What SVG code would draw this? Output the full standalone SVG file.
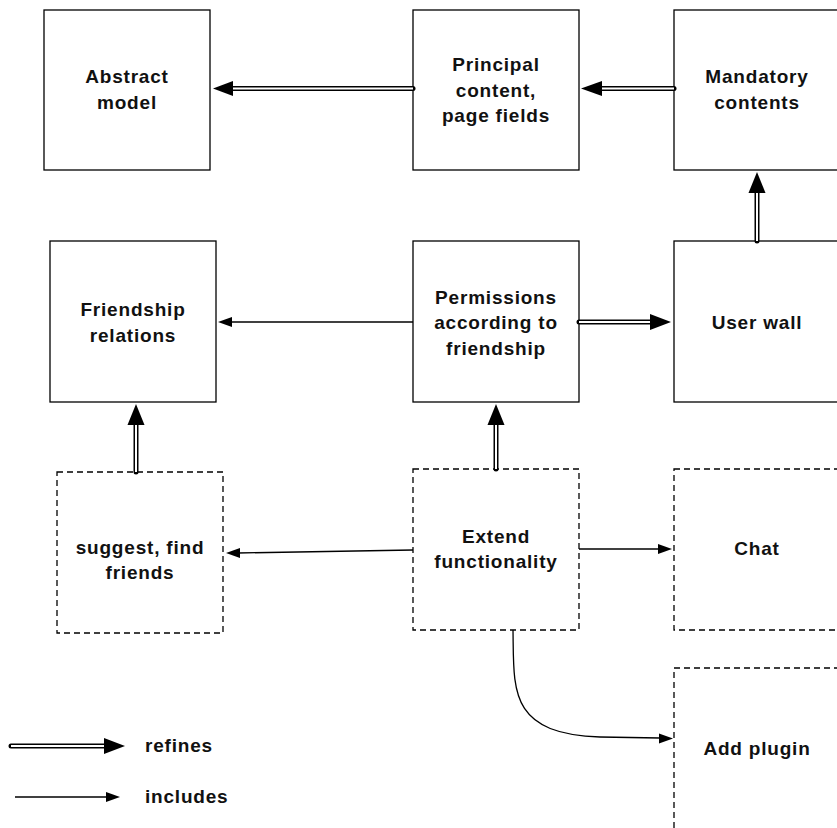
<svg xmlns="http://www.w3.org/2000/svg" width="837" height="828" viewBox="0 0 837 828">
  <style>
    .box { fill: #fff; stroke: #000; stroke-width: 1.3; }
    .dash { fill: #fff; stroke: #000; stroke-width: 1.3; stroke-dasharray: 6 4; }
    .lbl { font-family: "Liberation Sans", Arial, Helvetica, sans-serif; font-weight: bold; font-size: 19px; letter-spacing: 0.8px; text-anchor: middle; fill: #111; }
    .outer { fill: none; stroke: #000; stroke-width: 5; stroke-linecap: round; }
    .inner { fill: none; stroke: #fff; stroke-width: 2; }
    .thin { fill: none; stroke: #000; stroke-width: 1.3; }
    .head { fill: #000; stroke: none; }
  </style>
  <rect width="837" height="828" fill="#fff"/>

  <!-- nodes -->
  <g id="abstract-model">
    <rect class="box" x="44" y="10" width="166" height="160"/>
    <text class="lbl" x="127" y="83">Abstract</text>
    <text class="lbl" x="127" y="109">model</text>
  </g>
  <g id="principal-content">
    <rect class="box" x="413" y="10" width="166" height="160"/>
    <text class="lbl" x="496" y="71">Principal</text>
    <text class="lbl" x="496" y="97">content,</text>
    <text class="lbl" x="496" y="122">page fields</text>
  </g>
  <g id="mandatory-contents">
    <rect class="box" x="674" y="10" width="170" height="160"/>
    <text class="lbl" x="757" y="83">Mandatory</text>
    <text class="lbl" x="757" y="109">contents</text>
  </g>
  <g id="friendship-relations">
    <rect class="box" x="50" y="241" width="166" height="161"/>
    <text class="lbl" x="133" y="316">Friendship</text>
    <text class="lbl" x="133" y="342">relations</text>
  </g>
  <g id="permissions">
    <rect class="box" x="413" y="241" width="166" height="161"/>
    <text class="lbl" x="496" y="304">Permissions</text>
    <text class="lbl" x="496" y="329">according to</text>
    <text class="lbl" x="496" y="355">friendship</text>
  </g>
  <g id="user-wall">
    <rect class="box" x="674" y="241" width="170" height="161"/>
    <text class="lbl" x="757" y="329">User wall</text>
  </g>
  <g id="suggest-friends">
    <rect class="dash" x="57" y="472" width="166" height="161"/>
    <text class="lbl" x="140" y="554">suggest, find</text>
    <text class="lbl" x="140" y="579">friends</text>
  </g>
  <g id="extend-functionality">
    <rect class="dash" x="413" y="469" width="166" height="161"/>
    <text class="lbl" x="496" y="543">Extend</text>
    <text class="lbl" x="496" y="568">functionality</text>
  </g>
  <g id="chat">
    <rect class="dash" x="674" y="469" width="170" height="161"/>
    <text class="lbl" x="757" y="555">Chat</text>
  </g>
  <g id="add-plugin">
    <rect class="dash" x="674" y="668" width="170" height="170"/>
    <text class="lbl" x="757" y="755">Add plugin</text>
  </g>

  <!-- connectors -->
  <g id="connectors">
    <!-- refines: Principal content -> Abstract model -->
    <path class="outer" d="M413,88.5 H231"/>
    <path class="inner" d="M413,88.5 H231"/>
    <polygon class="head" points="213,88.5 233,81 233,96"/>
    <!-- refines: Mandatory contents -> Principal content -->
    <path class="outer" d="M674,88.5 H600"/>
    <path class="inner" d="M674,88.5 H600"/>
    <polygon class="head" points="581,88.5 602,81 602,96"/>
    <!-- refines: User wall -> Mandatory contents -->
    <path class="outer" d="M757,241 V191"/>
    <path class="inner" d="M757,241 V191"/>
    <polygon class="head" points="757,172 748.5,193 765.5,193"/>
    <!-- refines: Permissions -> User wall -->
    <path class="outer" d="M579,322 H652"/>
    <path class="inner" d="M579,322 H652"/>
    <polygon class="head" points="671,322 650,314 650,330"/>
    <!-- refines: suggest, find friends -> Friendship relations -->
    <path class="outer" d="M136,472 V423"/>
    <path class="inner" d="M136,472 V423"/>
    <polygon class="head" points="136,404 127.5,425 144.5,425"/>
    <!-- refines: Extend functionality -> Permissions -->
    <path class="outer" d="M496,469 V423"/>
    <path class="inner" d="M496,469 V423"/>
    <polygon class="head" points="496,404 487.5,425 504.5,425"/>

    <!-- includes: Permissions -> Friendship relations -->
    <path class="thin" d="M413,322 H230"/>
    <polygon class="head" points="218,322 232,317 232,327"/>
    <!-- includes: Extend functionality -> suggest, find friends -->
    <path class="thin" d="M413,550 L238,553"/>
    <polygon class="head" points="226,553 240,548 240,558"/>
    <!-- includes: Extend functionality -> Chat -->
    <path class="thin" d="M579,549 H660"/>
    <polygon class="head" points="672,549 658,544 658,554"/>
    <!-- includes: Extend functionality -> Add plugin -->
    <path class="thin" d="M513,630 C514,690 508,734 600,737 L660,738"/>
    <polygon class="head" points="673,738.5 659,733.5 659,743.5"/>
  </g>

  <!-- legend -->
  <g id="legend">
    <path class="outer" d="M11,746 H106"/>
    <path class="inner" d="M11,746 H106"/>
    <polygon class="head" points="125,746 104,738 104,754"/>
    <text class="lbl" x="145" y="752" style="text-anchor:start">refines</text>
    <path class="thin" d="M15,797 H108"/>
    <polygon class="head" points="120,797 106,792 106,802"/>
    <text class="lbl" x="145" y="803" style="text-anchor:start">includes</text>
  </g>
</svg>
